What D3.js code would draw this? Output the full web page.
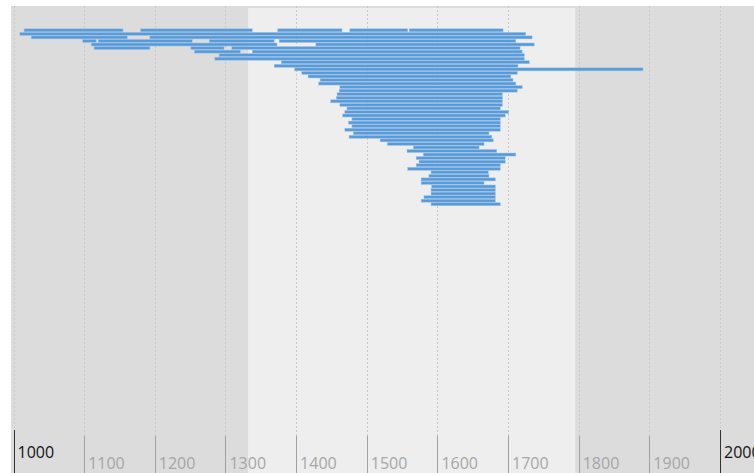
<!DOCTYPE html>
<html>
<head>
<meta charset="utf-8">
<script src="https://cdn.jsdelivr.net/npm/d3@7"></script>
<style>
  html, body { margin: 0; padding: 0; background: #fff; }
  svg { display: block; }
</style>
</head>
<body>
<svg id="chart" width="754" height="473"></svg>
<script>
// ---- data ----
const tickYears = [1000, 1100, 1200, 1300, 1400, 1500, 1600, 1700, 1800, 1900, 2000];
const majorYears = [1000, 2000];
const highlightRange = [1332, 1795];

const starts = [
  1015, 1180, 1374, 1476, 1560,
  1009,
  1025, 1193,
  1098, 1120, 1277, 1376,
  1110, 1428,
  1114, 1251, 1309,
  1256, 1338,
  1291, 1285, 1379, 1369, 1398, 1408, 1417, 1434, 1432,
  1462, 1461, 1458, 1457, 1449, 1462, 1472, 1469, 1466, 1479,
  1474, 1479, 1469, 1481, 1475, 1519, 1529, 1566, 1557, 1580,
  1570, 1574, 1570, 1558, 1591, 1588, 1577, 1577, 1592, 1591,
  1591, 1581, 1577, 1591
];
const ends = [
  1155, 1338, 1465, 1558, 1693,
  1725,
  1161, 1734,
  1117, 1253, 1369, 1711,
  1373, 1737,
  1193, 1298, 1717,
  1321, 1720,
  1723, 1723, 1730, 1714, 1891, 1713, 1704, 1707, 1711,
  1720, 1713, 1692, 1692, 1692, 1692, 1689, 1701, 1696, 1689,
  1689, 1689, 1689, 1673, 1677, 1679, 1666, 1659, 1684, 1711,
  1696, 1696, 1689, 1689, 1672, 1673, 1682, 1666, 1682, 1682,
  1682, 1682, 1682, 1689
];
const lanes = [
  0, 0, 0, 0, 0,
  1,
  2, 2,
  3, 3, 3, 3,
  4, 4,
  5, 5, 5,
  6, 6,
  7, 8, 9, 10, 11, 12, 13, 14, 15,
  16, 17, 18, 19, 20, 21, 22, 23, 24, 25,
  26, 27, 28, 29, 30, 31, 32, 33, 34, 35,
  36, 37, 38, 39, 40, 41, 42, 43, 44, 45,
  46, 47, 48, 49
];

// ---- chart ----
const W = 754, H = 473;
const svg = d3.select("#chart");

const x = d3.scaleLinear().domain([1000, 2000]).range([13.5, 720]);
const y = d3.scaleLinear().domain([0, 49]).range([28.8, 28.8 + 49 * 3.55]);

// background
svg.append("rect").attr("x", 11).attr("y", 6).attr("width", W - 11).attr("height", H - 6)
  .attr("fill", "#dcdcdc");
svg.append("rect")
  .attr("x", x(highlightRange[0])).attr("y", 8)
  .attr("width", x(highlightRange[1]) - x(highlightRange[0])).attr("height", H - 8)
  .attr("fill", "#eeeeee");

// gridlines
const gTop = 6, gridBottom = 436;
svg.append("g").selectAll("line").data(tickYears).join("line")
  .attr("x1", d => Math.round(x(d)) + 0.5).attr("x2", d => Math.round(x(d)) + 0.5)
  .attr("y1", gTop).attr("y2", gridBottom)
  .attr("stroke", "#c9c9c9").attr("stroke-width", 1)
  .attr("stroke-dasharray", "2,2");

// bars
const bars = starts.map((s, i) => ({ start: s, end: ends[i], lane: lanes[i] }));
svg.append("g").selectAll("rect").data(bars).join("rect")
  .attr("x", d => x(d.start))
  .attr("y", d => y(d.lane))
  .attr("width", d => x(d.end) - x(d.start))
  .attr("height", 3)
  .attr("fill", "#5a9bd7")
  .attr("stroke", "#9cc4ec")
  .attr("stroke-width", 0.5);

// axis ticks + labels
const isMajor = d => majorYears.includes(d);
const axis = svg.append("g");
axis.selectAll("line").data(tickYears).join("line")
  .attr("x1", d => Math.round(x(d)) + 0.5).attr("x2", d => Math.round(x(d)) + 0.5)
  .attr("y1", d => isMajor(d) ? 430 : 436).attr("y2", H)
  .attr("stroke", d => isMajor(d) ? "#333" : "#a0a0a0").attr("stroke-width", 1);
axis.selectAll("text").data(tickYears).join("text")
  .attr("x", d => x(d) + 4)
  .attr("y", d => isMajor(d) ? 458 : 469)
  .attr("fill", d => isMajor(d) ? "#111" : "#a6a6a6")
  .attr("font-family", "'Segoe UI', 'Open Sans', 'Liberation Sans', sans-serif")
  .attr("font-size", 16)
  .text(d => d);
</script>
</body>
</html>
